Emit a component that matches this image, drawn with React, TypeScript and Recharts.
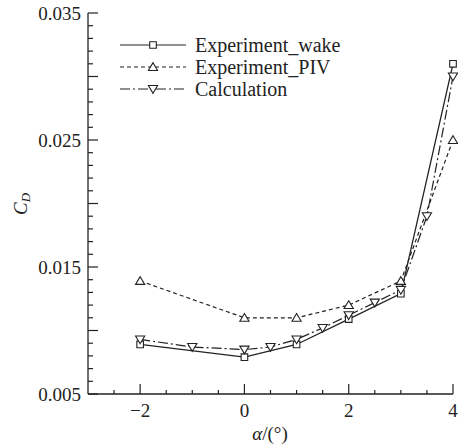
import { LineChart, Line, XAxis, YAxis, Legend } from "recharts";

const alphaWake = [-2, 0, 1, 2, 3, 4];
const cdWake = [0.0089, 0.0079, 0.0089, 0.0109, 0.0129, 0.031];
const alphaPiv = [-2, 0, 1, 2, 3, 4];
const cdPiv = [0.0139, 0.011, 0.011, 0.012, 0.0139, 0.025];
const alphaCalc = [-2, -1, 0, 0.5, 1, 1.5, 2, 2.5, 3, 3.5, 4];
const cdCalc = [0.0093, 0.0087, 0.0085, 0.0087, 0.0093, 0.0102, 0.0112, 0.0122, 0.0132, 0.019, 0.03];

const seriesNames = ["Experiment_wake", "Experiment_PIV", "Calculation"];

const xTicks = [-2.5, -2, -1.5, -1, -0.5, 0, 0.5, 1, 1.5, 2, 2.5, 3, 3.5, 4];
const xLabels = [-2, 0, 2, 4];
const yTicks = [
  0.005, 0.006, 0.007, 0.008, 0.009, 0.01, 0.011, 0.012, 0.013, 0.014, 0.015,
  0.016, 0.017, 0.018, 0.019, 0.02, 0.021, 0.022, 0.023, 0.024, 0.025,
  0.026, 0.027, 0.028, 0.029, 0.03, 0.031, 0.032, 0.033, 0.034, 0.035,
];
const yLabels = [0.005, 0.015, 0.025, 0.035];

const FONT = '"Liberation Serif", "Times New Roman", serif';
const INK = "#222";

const toPoints = (xs: number[], ys: number[]) => xs.map((a, i) => ({ a, cd: ys[i] }));

type Shape = "square" | "up" | "down";

const styles: Record<string, { shape: Shape; dash?: string }> = {
  Experiment_wake: { shape: "square" },
  Experiment_PIV: { shape: "up", dash: "4 3" },
  Calculation: { shape: "down", dash: "10 3 2 3" },
};

function markerPath(shape: Shape, cx: number, cy: number) {
  if (shape === "square") {
    const s = 3.3;
    return `M${cx - s},${cy - s}h${2 * s}v${2 * s}h${-2 * s}Z`;
  }
  const h = 4.3;
  const w = 4.6;
  if (shape === "up") return `M${cx},${cy - h}L${cx + w},${cy + h * 0.8}L${cx - w},${cy + h * 0.8}Z`;
  return `M${cx},${cy + h}L${cx + w},${cy - h * 0.8}L${cx - w},${cy - h * 0.8}Z`;
}

const makeDot = (shape: Shape) => (p: any) => (
  <path
    key={`${shape}-${p.index}`}
    d={markerPath(shape, p.cx, p.cy)}
    fill="#fff"
    stroke={INK}
    strokeWidth={1.1}
  />
);

const isNear = (v: number, list: number[]) => list.some((t) => Math.abs(t - v) < 1e-9);

const XTick = (p: any) => {
  const v = p.payload.value;
  const major = isNear(v, xLabels);
  return (
    <g>
      <line x1={p.x} y1={p.y} x2={p.x} y2={p.y - (major ? 10 : 4)} stroke={INK} strokeWidth={1.2} />
      {major && (
        <text x={p.x} y={p.y + 16} textAnchor="middle" dominantBaseline="central" fontFamily={FONT} fontSize={19} fill={INK}>
          {v < 0 ? `\u2212${Math.abs(v)}` : v}
        </text>
      )}
    </g>
  );
};

const YTick = (p: any) => {
  const v = p.payload.value;
  const major = Math.round(v * 1000) % 5 === 0;
  return (
    <g>
      <line x1={p.x} y1={p.y} x2={p.x + (major ? 10 : 5)} y2={p.y} stroke={INK} strokeWidth={1.2} />
      {isNear(v, yLabels) && (
        <text x={p.x - 7} y={p.y} textAnchor="end" dominantBaseline="central" fontFamily={FONT} fontSize={19} fill={INK}>
          {v.toFixed(3)}
        </text>
      )}
    </g>
  );
};

const renderLegend = (props: any) => {
  const items = [...(props.payload || [])].sort(
    (a: any, b: any) => seriesNames.indexOf(a.value) - seriesNames.indexOf(b.value)
  );
  return (
    <svg width={270} height={70}>
      {items.map((entry: any, i: number) => {
        const st = styles[entry.value];
        const y = 12 + i * 22;
        return (
          <g key={entry.value}>
            <line x1={12} y1={y} x2={78} y2={y} stroke={INK} strokeWidth={1.2} strokeDasharray={st.dash} />
            <path d={markerPath(st.shape, 45, y)} fill="#fff" stroke={INK} strokeWidth={1.1} />
            <text x={87} y={y} dominantBaseline="central" fontFamily={FONT} fontSize={20} fill={INK}>
              {entry.value}
            </text>
          </g>
        );
      })}
    </svg>
  );
};

export default function App() {
  return (
    <div style={{ position: "absolute", left: 0, top: 0 }}>
      <LineChart width={458} height={445} margin={{ top: 13, right: 5, bottom: 0, left: 0 }}>
        <XAxis
          type="number"
          dataKey="a"
          domain={[-3, 4]}
          ticks={xTicks}
          interval={0}
          tick={<XTick />}
          tickLine={false}
          tickSize={0}
          tickMargin={0}
          height={51}
          axisLine={{ stroke: INK, strokeWidth: 1.3 }}
          allowDuplicatedCategory={false}
          label={{
            content: () => (
              <text x={270} y={433} textAnchor="middle" dominantBaseline="central" fontFamily={FONT} fontSize={19} fill={INK}>
                <tspan fontStyle="italic">α</tspan>/(°)
              </text>
            ),
          }}
        />
        <YAxis
          type="number"
          dataKey="cd"
          domain={[0.005, 0.035]}
          ticks={yTicks}
          interval={0}
          tick={<YTick />}
          tickLine={false}
          tickSize={0}
          tickMargin={0}
          width={88}
          axisLine={{ stroke: INK, strokeWidth: 1.3 }}
          label={{
            content: () => (
              <text x={20} y={204} textAnchor="middle" dominantBaseline="central" fontFamily={FONT} fontSize={19} fill={INK} transform="rotate(-90 20 204)">
                <tspan fontStyle="italic">C</tspan>
                <tspan fontStyle="italic" fontSize={13} dy={5}>D</tspan>
              </text>
            ),
          }}
        />
        <Legend
          layout="vertical"
          align="center"
          verticalAlign="middle"
          content={renderLegend}
          wrapperStyle={{ left: 108, top: 33, width: 270, height: 70 }}
        />
        <Line
          name="Experiment_wake"
          data={toPoints(alphaWake, cdWake)}
          dataKey="cd"
          stroke={INK}
          strokeWidth={1.3}
          dot={makeDot("square")}
          isAnimationActive={false}
        />
        <Line
          name="Experiment_PIV"
          data={toPoints(alphaPiv, cdPiv)}
          dataKey="cd"
          stroke={INK}
          strokeWidth={1.2}
          strokeDasharray="4 3"
          dot={makeDot("up")}
          isAnimationActive={false}
        />
        <Line
          name="Calculation"
          data={toPoints(alphaCalc, cdCalc)}
          dataKey="cd"
          stroke={INK}
          strokeWidth={1.2}
          strokeDasharray="10 3 2 3"
          dot={makeDot("down")}
          isAnimationActive={false}
        />
      </LineChart>
    </div>
  );
}
